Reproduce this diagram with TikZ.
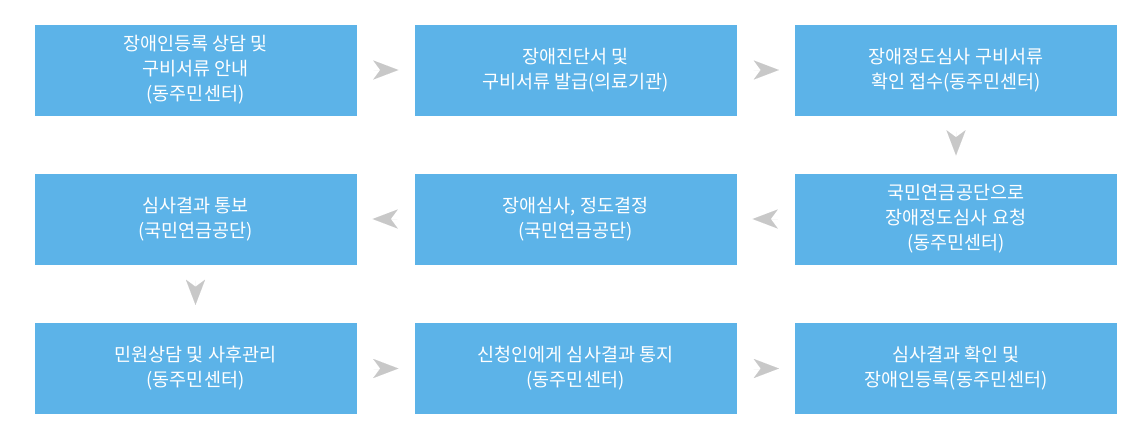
\documentclass[tikz,border=0pt]{standalone}
\usepackage{fontspec}
\setmainfont{Noto Sans CJK KR}
\usetikzlibrary{arrows.meta}
\definecolor{boxblue}{RGB}{92,179,232}
\definecolor{arrowgray}{RGB}{200,200,200}
\begin{document}
\begin{tikzpicture}[x=1pt,y=-1pt,
  stepbox/.style={fill=boxblue, draw=none, minimum width=322pt, minimum height=91pt,
    text=white, align=center, inner sep=0pt,
    font=\fontsize{18.5}{25}\selectfont},
  flow/.style={draw=arrowgray, line width=0.01pt,
    -{Stealth[length=25pt,width=19pt,inset=7pt,fill=arrowgray,color=arrowgray]}}
]
\useasboundingbox[fill=white] (0,0) rectangle (1133,424);
\node[stepbox] (a) at (195.5,70) {장애인등록 상담 및\\구비서류 안내\\(동주민센터)};
\node[stepbox] (b) at (575.5,70) {장애진단서 및\\구비서류 발급(의료기관)};
\node[stepbox] (c) at (956,70) {장애정도심사 구비서류\\확인 접수(동주민센터)};
\node[stepbox] (d) at (956,219) {국민연금공단으로\\장애정도심사 요청\\(동주민센터)};
\node[stepbox] (e) at (575.5,219) {장애심사, 정도결정\\(국민연금공단)};
\node[stepbox] (f) at (195.5,219) {심사결과 통보\\(국민연금공단)};
\node[stepbox] (g) at (195.5,368.5) {민원상담 및 사후관리\\(동주민센터)};
\node[stepbox] (h) at (575.5,368.5) {신청인에게 심사결과 통지\\(동주민센터)};
\node[stepbox] (i) at (956,368.5) {심사결과 확인 및\\장애인등록(동주민센터)};
\draw[flow, shorten <=17pt, shorten >=16pt] (a) -- (b);
\draw[flow, shorten <=17pt, shorten >=16pt] (b) -- (c);
\draw[flow, shorten <=16pt, shorten >=18pt] (c) -- (d);
\draw[flow, shorten <=17pt, shorten >=16pt] (d) -- (e);
\draw[flow, shorten <=17pt, shorten >=16pt] (e) -- (f);
\draw[flow, shorten <=16pt, shorten >=18pt] (f) -- (g);
\draw[flow, shorten <=17pt, shorten >=16pt] (g) -- (h);
\draw[flow, shorten <=17pt, shorten >=16pt] (h) -- (i);
\end{tikzpicture}
\end{document}
